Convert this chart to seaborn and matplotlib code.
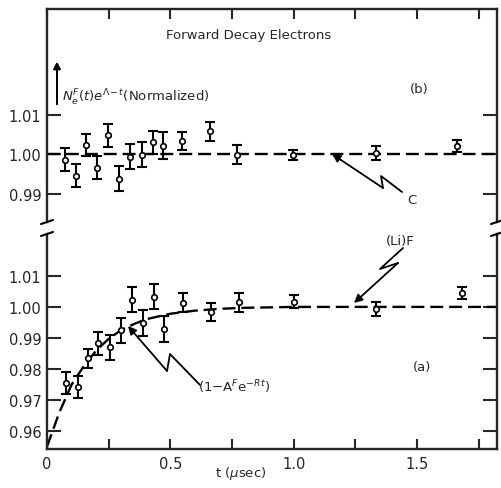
import numpy as np
import pandas as pd
import matplotlib.pyplot as plt
import seaborn as sns
from matplotlib.lines import Line2D

# panel (b): carbon target
t_b = [0.073, 0.118, 0.159, 0.204, 0.247, 0.293, 0.337, 0.385, 0.430, 0.472,
       0.549, 0.659, 0.772, 0.996, 1.333, 1.663]
n_b = [0.9985, 0.9945, 1.0023, 0.9965, 1.0048, 0.9938, 0.9993, 0.9998, 1.0030, 1.0021,
       1.0033, 1.0058, 0.9998, 0.9998, 1.0003, 1.0020]
err_b = [0.0029, 0.0029, 0.0028, 0.0029, 0.0029, 0.0032, 0.0032, 0.0032, 0.0029, 0.0034,
         0.0023, 0.0024, 0.0024, 0.0013, 0.0017, 0.0015]

# panel (a): (Li)F target
t_a = [0.077, 0.126, 0.166, 0.207, 0.256, 0.301, 0.345, 0.390, 0.435, 0.476,
       0.553, 0.666, 0.777, 1.000, 1.333, 1.683]
n_a = [0.9754, 0.9741, 0.9834, 0.9883, 0.9870, 0.9924, 1.0023, 0.9949, 1.0033, 0.9928,
       1.0014, 0.9983, 1.0015, 1.0017, 0.9994, 1.0044]
err_a = [0.0035, 0.0035, 0.0031, 0.0037, 0.0040, 0.0040, 0.0040, 0.0042, 0.0041, 0.0042,
         0.0030, 0.0030, 0.0030, 0.0022, 0.0022, 0.0020]

# dashed fit curve (1 - A^F e^-Rt)
fit_t = [0.0, 0.025, 0.05, 0.1, 0.15, 0.2, 0.25, 0.3, 0.35, 0.4, 0.5, 0.6, 0.7, 0.8, 1.0, 1.2, 1.5, 1.83]
fit_n = [0.955, 0.9605, 0.966, 0.975, 0.981, 0.986, 0.9897, 0.9925, 0.9944, 0.996,
         0.9978, 0.9988, 0.9994, 0.9997, 1.0, 1.0, 1.0, 1.0]

# flat line for panel (b)
flat_t = [0.0, 1.83]
flat_n = [1.0, 1.0]

sns.set_style("ticks")
plt.rcParams['font.family'] = ['DejaVu Sans']

W, H = 501, 489
fig = plt.figure(figsize=(W / 100, H / 100), dpi=100)


def fp(x, y):
    return x / W, 1 - y / H


ax_b = fig.add_axes([47 / W, 1 - 223 / H, 450 / W, 213 / H])
ax_a = fig.add_axes([47 / W, 1 - 450 / H, 450 / W, 215 / H])

dash = (0, (5.5, 2.5))
for ax, t, n, e in [(ax_b, t_b, n_b, err_b), (ax_a, t_a, n_a, err_a)]:
    ax.errorbar(t, n, yerr=e, fmt='none', ecolor='k', elinewidth=1.5,
                capsize=3.5, capthick=1.5, zorder=2)
    sns.scatterplot(x=t, y=n, ax=ax, marker='o', s=16, facecolor='white',
                    edgecolor='k', linewidth=1.2, zorder=3)
    ax.set_xlim(0, 1.824)
    ax.set_xticks(np.arange(0, 1.8, 0.25))
    for s in ax.spines.values():
        s.set_linewidth(1.7)
    ax.tick_params(axis='y', left=True, right=True, direction='in', length=10,
                   width=1.5, labelsize=10.5, pad=4)
    ax.set_xlabel('')
    ax.set_ylabel('')

sns.lineplot(x=flat_t, y=flat_n, ax=ax_b, color='k', lw=1.7, linestyle=dash, zorder=1)
sns.lineplot(x=fit_t, y=fit_n, ax=ax_a, color='k', lw=1.7, linestyle=dash, zorder=1)

ax_b.set_ylim(0.9828, 1.0367)
ax_b.set_yticks([0.99, 1.00, 1.01])
ax_b.set_yticklabels(['0.99', '1.00', '1.01'])
ax_b.spines['bottom'].set_visible(False)
ax_b.tick_params(axis='x', bottom=False, top=True, labelbottom=False,
                 direction='in', length=7, width=1.5)

ax_a.set_ylim(0.9542, 1.0235)
ax_a.set_yticks([0.96, 0.97, 0.98, 0.99, 1.00, 1.01])
ax_a.set_yticklabels(['0.96', '0.97', '0.98', '0.99', '1.00', '1.01'])
ax_a.set_xticklabels(['0', '', '0.5', '', '1.0', '', '1.5', ''])
ax_a.spines['top'].set_visible(False)
ax_a.tick_params(axis='x', bottom=True, top=False, direction='in', length=7,
                 width=1.5, labelsize=10.5, pad=5)

# break marks on the axis
for x in (47, 497):
    for y in (223, 235):
        p0 = fp(x - 6, y + 2)
        p1 = fp(x + 6, y - 2)
        fig.add_artist(Line2D([p0[0], p1[0]], [p0[1], p1[1]], color='k', lw=1.5,
                              transform=fig.transFigure))

# texts
fs = 9.5
fig.text(*fp(249, 36), 'Forward Decay Electrons', ha='center', va='center', fontsize=fs)
fig.text(*fp(62, 98), r'$N_e^F(t)e^{\Lambda\!-t}$(Normalized)', ha='left', va='center', fontsize=fs)
fig.text(*fp(419, 90), '(b)', ha='center', va='center', fontsize=fs)
fig.text(*fp(422, 368), '(a)', ha='center', va='center', fontsize=fs)
fig.text(*fp(412, 200), 'C', ha='center', va='center', fontsize=fs)
fig.text(*fp(400, 242), '(Li)F', ha='center', va='center', fontsize=fs)
fig.text(*fp(198, 387), r'(1$-$A$^F$e$^{-Rt}$)', ha='left', va='center', fontsize=fs)
fig.text(*fp(241, 474), r't ($\mu$sec)', ha='center', va='center', fontsize=fs)

# up arrow next to the y-quantity
fig.add_artist(plt.annotate('', xy=fp(57, 60), xytext=fp(57, 108), xycoords='figure fraction',
                            textcoords='figure fraction',
                            arrowprops=dict(arrowstyle='-|>', color='k', lw=1.3)))

# lightning-style pointer arrows: (points from text end..., head)
pointers = [
    [(402, 193), (381, 177), (383, 189), (332, 155)],
    [(403, 249), (380, 270), (398, 264), (354, 304)],
    [(200, 386), (170, 355), (167, 372), (128, 327)],
]
for path in pointers:
    xs = [fp(*p)[0] for p in path[:-1]]
    ys = [fp(*p)[1] for p in path[:-1]]
    fig.add_artist(Line2D(xs, ys, color='k', lw=1.3, transform=fig.transFigure))
    ax_a.annotate('', xy=fp(*path[-1]), xytext=fp(*path[-2]), xycoords='figure fraction',
                  textcoords='figure fraction',
                  arrowprops=dict(arrowstyle='-|>', color='k', lw=1.3,
                                  shrinkA=0, shrinkB=0, mutation_scale=12))

fig.savefig('out.png', dpi=100)
